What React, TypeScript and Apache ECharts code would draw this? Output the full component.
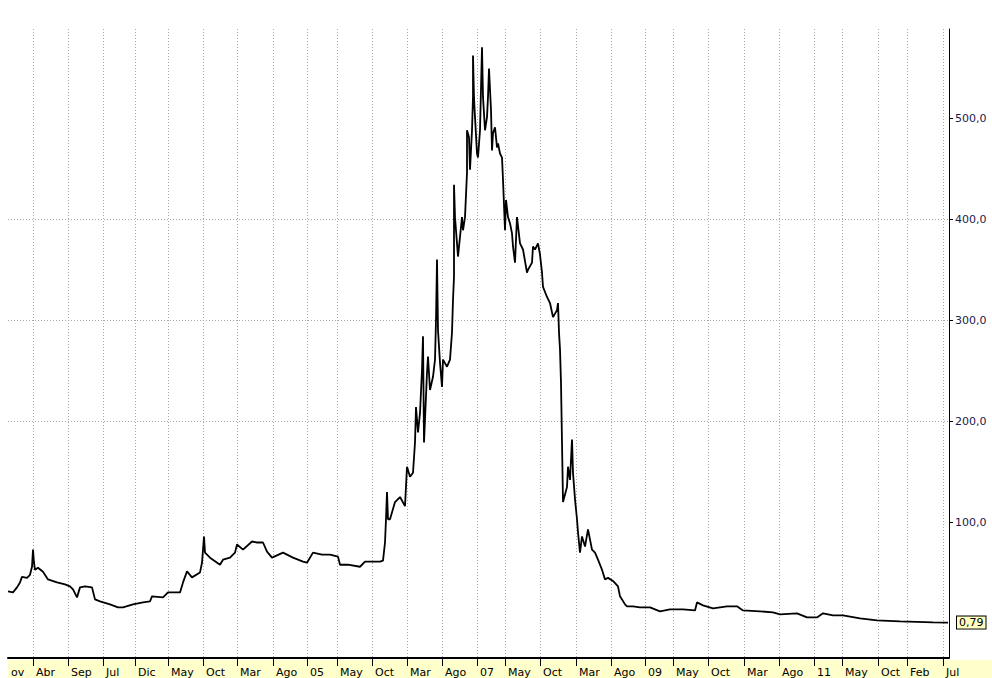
import React, { useEffect, useRef } from "react";
import * as echarts from "echarts";

// x index = trading-bar position along the axis; value = price
const early: [number, number][] = [
  [0, 31.6], [5, 30.6], [9, 35.6], [12, 40.5], [14, 46], [19, 45], [22, 48], [24, 56], [25, 73], [26, 60],
  [27, 53], [30, 55], [35, 51], [40, 43.5], [49, 40.5], [57, 38.5], [62, 36.6], [65, 33.6], [69, 25.7],
  [72, 35.6], [77, 36.6], [84, 35.6], [87, 23.7], [92, 21.7], [102, 18.8], [110, 15.8], [115, 15.8],
  [125, 18.8], [135, 20.8], [142, 21.7], [144, 26.7], [155, 25.7], [160, 30.6], [172, 30.6], [175, 40.5],
  [179, 51.4], [184, 45.5], [192, 50.4], [194, 60], [196, 86], [197, 70], [202, 65], [212, 58], [215, 63],
  [222, 65], [227, 70], [229, 78], [235, 73], [244, 81], [249, 80], [255, 80], [259, 71], [264, 65],
  [275, 70], [285, 65], [295, 61], [299, 60], [305, 70], [314, 68], [322, 68], [330, 66], [332, 58],
  [340, 58], [352, 56], [357, 61], [365, 61], [372, 61], [375, 62], [377, 80], [378, 103], [379, 130], [380, 103],
];
const rally: [number, number][] = [
  [382, 103], [387, 120], [392, 125], [397, 116], [399, 155], [402, 145], [405, 149], [407, 179], [408, 214],
  [410, 189], [412, 208], [414, 251], [415, 284], [416, 179], [419, 248], [420, 264], [422, 231], [425, 244],
  [427, 261], [428, 300], [429, 360], [430, 290], [432, 258], [434, 234], [435, 261], [439, 254], [442, 261],
  [444, 288], [445, 320], [446, 343], [446, 434],
];
const peak: [number, number][] = [
  [447, 402], [450, 363], [454, 402], [455, 389], [457, 402], [459, 446], [459, 488], [461, 481], [462, 449],
  [464, 488], [465, 521], [465, 562], [466, 520], [467, 501], [469, 465], [470, 461], [472, 488], [474, 570],
  [475, 521], [477, 488], [479, 501], [480, 521], [481, 549], [483, 508], [484, 468], [485, 485], [487, 491],
  [489, 471], [490, 475], [492, 465], [494, 461], [495, 439], [497, 389], [498, 419], [500, 402], [502, 396],
  [504, 386], [505, 373], [507, 357], [509, 402], [512, 376], [515, 370], [519, 347], [520, 350], [524, 357],
  [525, 373], [527, 370], [530, 376], [532, 365], [534, 347], [535, 333], [539, 323], [542, 317], [545, 303],
  [549, 310], [550, 317], [551, 288], [552, 271], [553, 238], [554, 179], [555, 120],
];
const crash: [number, number][] = [
  [559, 135], [560, 155], [562, 142], [564, 182], [565, 149], [567, 123], [569, 103], [570, 90], [572, 70],
  [574, 86], [577, 76], [580, 93], [584, 73], [587, 70], [590, 63], [594, 53], [597, 43.5], [600, 45],
  [605, 42], [610, 36.6], [612, 26.7], [614, 23.7], [617, 18.8], [619, 16.8], [625, 16.8], [632, 15.8],
];
const tail: [number, number][] = [
  [642, 15.8], [652, 11.9], [662, 13.8], [675, 13.8], [687, 12.8], [689, 20.7], [695, 17.8], [705, 14.8],
  [719, 16.8], [729, 16.8], [735, 12.8], [752, 11.9], [765, 10.9], [772, 8.9], [789, 9.9], [799, 5.9],
  [809, 5.9], [815, 9.9], [825, 7.9], [835, 7.9], [852, 4.9], [869, 3.0], [892, 2.0], [925, 1.0], [940, 0.79],
];

const tickLabels = ["ov", "Abr", "Sep", "Jul", "Dic", "May", "Oct", "Mar", "Ago", "05", "May", "Oct", "Mar", "Ago", "07",
  "May", "Oct", "Mar", "Ago", "09", "May", "Oct", "Mar", "Ago", "11", "May", "Oct", "Feb", "Jul"];
const tickIndex = [0, 25, 60, 95, 127, 160, 195, 229, 265, 299, 329, 364, 399, 434, 469,
  497, 532, 568, 603, 637, 665, 700, 736, 771, 806, 834, 870, 899, 935];
const barCount = 942;
const yLabelValues = [100, 200, 300, 400, 500];
const lastPrice = 0.79;

export default function App() {
  const ref = useRef<HTMLDivElement>(null);
  useEffect(() => {
    if (!ref.current) return;
    const chart = echarts.init(ref.current, null, { renderer: "svg" });
    const cats: string[] = new Array(barCount).fill("");
    tickIndex.forEach((ix, k) => { cats[ix] = tickLabels[k]; });
    const data = [...early, ...rally, ...peak, ...crash, ...tail];
    const fmt = (v: number) => v.toFixed(1).replace(".", ",");
    chart.setOption({
      animation: false,
      backgroundColor: "#ffffff",
      textStyle: { fontFamily: "DejaVu Sans" },
      grid: { left: 8, right: 43, top: 29, bottom: 19, containLabel: false },
      graphic: [
        { type: "rect", z: -10, shape: { x: 8, y: 660, width: 984, height: 18 }, style: { fill: "#ffffcc" } },
      ],
      xAxis: {
        type: "category",
        data: cats,
        boundaryGap: false,
        axisLine: { show: true, onZero: false, lineStyle: { color: "#000", width: 2 } },
        axisTick: {
          show: true, length: 8, lineStyle: { color: "#000", width: 1 },
          interval: (i: number, v: string) => i > 0 && v !== "",
        },
        axisLabel: {
          show: true, interval: (i: number, v: string) => v !== "",
          align: "left", margin: 9, padding: [0, 0, 0, 3],
          color: "#000", fontSize: 11, fontFamily: "DejaVu Sans",
        },
        splitLine: {
          show: true, interval: (i: number, v: string) => i > 0 && v !== "",
          lineStyle: { color: "#a8a8a8", width: 1, type: [1, 2] },
        },
      },
      yAxis: {
        type: "value",
        position: "right",
        min: -34.3,
        max: 588.2,
        splitNumber: 5,
        axisLine: { show: true, lineStyle: { color: "#000", width: 1 } },
        axisTick: { show: true, length: 4, customValues: yLabelValues, lineStyle: { color: "#000" } },
        axisLabel: {
          show: true, customValues: yLabelValues, margin: 6,
          formatter: (v: number) => fmt(v), color: "#1a1a4a", fontSize: 11, fontFamily: "DejaVu Sans",
        },
        splitLine: {
          show: true, showMinLine: false, showMaxLine: false,
          lineStyle: { color: "#a8a8a8", width: 1, type: [1, 2] },
        },
      },
      series: [
        {
          type: "line",
          data,
          showSymbol: false,
          symbol: "none",
          clip: false,
          lineStyle: { color: "#000", width: 1.8 },
          markLine: {
            silent: true,
            symbol: ["none", "none"],
            lineStyle: { color: "transparent", width: 1, type: "solid" },
            data: [{ yAxis: lastPrice }],
            label: {
              show: true, position: "end", distance: 8,
              formatter: () => lastPrice.toFixed(2).replace(".", ","),
              color: "#000", fontSize: 11, fontFamily: "DejaVu Sans",
              backgroundColor: "#ffffc0", borderColor: "#000", borderWidth: 1, padding: [1, 2, 0, 2],
            },
          },
        },
      ],
    });
    return () => chart.dispose();
  }, []);
  return <div ref={ref} style={{ position: "fixed", left: 0, top: 0, width: 992, height: 678 }} />;
}
